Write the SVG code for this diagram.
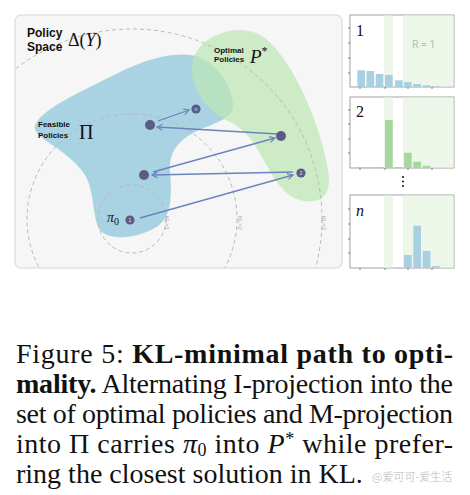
<svg xmlns="http://www.w3.org/2000/svg" width="470" height="495" viewBox="0 0 470 495">
<style>
.sans{font-family:"Liberation Sans",Arial,sans-serif;font-weight:bold;fill:#111}
.math{font-family:"Liberation Serif","Times New Roman",serif;fill:#111}
.kl{font-family:"Liberation Sans",Arial,sans-serif;font-size:6px;fill:#aaa}
.circ{fill:none;stroke:#b8b8b8;stroke-width:1;stroke-dasharray:4 3}
.node{fill:#5b5b86}
.nlab{font-family:"Liberation Sans",Arial,sans-serif;font-size:5px;fill:#e8e8f0;text-anchor:middle}
.arr{fill:none;stroke:#6a85bd;stroke-width:1.3;marker-end:url(#ah)}
.box{fill:#fff;stroke:#8a8a8a;stroke-width:0.8}
.band{fill:#ecf6e9}
.tick{stroke:#555;stroke-width:0.7}
.blue{fill:#a9d3e2}
.cap{font-family:"Liberation Serif","Times New Roman",serif;font-size:28px;fill:#111}
</style>
<defs>
<marker id="ah" markerWidth="10" markerHeight="10" refX="6" refY="3.5" orient="auto" markerUnits="userSpaceOnUse">
<path d="M0.5,0.5 L6,3.5 L0.5,6.5" fill="none" stroke="#6a85bd" stroke-width="1.2"/>
</marker>
<clipPath id="pc"><rect x="15" y="15" width="327" height="253" rx="6"/></clipPath>
</defs>

<g id="panel">
<rect x="15" y="15" width="327" height="253" rx="6" fill="#f6f6f6" stroke="#e2e2e2" stroke-width="1.5"/>
</g>

<g id="feasible">
<path class="blue" d="M37,122 C45,108 80,92 110,77 C135,64 165,52 190,55 C215,58 232,85 233,105 C234,118 215,123 197,131 C180,139 168,152 170,172 C172,195 172,215 158,226 C140,238 110,242 100,230 C92,218 95,192 85,175 C75,160 60,150 45,140 C35,133 32,127 37,122 Z"/>
</g>
<g id="optimal">
<path fill="#bde6b3" opacity="0.72" d="M193,60 C200,35 240,20 265,38 C295,62 322,130 328,170 C332,195 322,203 305,201 C288,199 278,185 268,168 C258,150 250,132 230,122 C200,108 188,80 193,60 Z"/>
</g>

<g id="kl-circles" clip-path="url(#pc)">
<circle class="circ" cx="132" cy="219" r="34"/>
<circle class="circ" cx="132" cy="219" r="105"/>
<circle class="circ" cx="132" cy="219" r="190"/>
<text class="kl" transform="translate(165,216) rotate(90)">KL=1</text>
<text class="kl" transform="translate(238,216) rotate(90)">KL=2</text>
<text class="kl" transform="translate(322,216) rotate(90)">KL=3</text>
</g>

<g id="labels">
<text class="sans" x="27" y="37" font-size="12">Policy</text>
<text class="sans" x="27" y="51" font-size="12">Space</text>
<text class="math" x="68" y="46" font-size="18">Δ(<tspan font-style="italic">Y</tspan>)</text>
<text class="sans" x="214" y="53" font-size="8">Optimal</text>
<text class="sans" x="214" y="62" font-size="8">Policies</text>
<text class="math" x="250" y="63" font-size="19" font-style="italic">P<tspan font-size="12" dy="-8" font-style="normal">*</tspan></text>
<text class="sans" x="38" y="127" font-size="8">Feasible</text>
<text class="sans" x="38" y="138" font-size="8">Policies</text>
<text class="math" x="79" y="139" font-size="20">Π</text>
<text class="math" x="107" y="222" font-size="14" font-style="italic">π<tspan font-size="10" dy="2.5" font-style="normal">0</tspan></text>
</g>

<g id="connectors">
<line class="arr" x1="140" y1="218" x2="293" y2="175"/>
<line class="arr" x1="293" y1="172" x2="152" y2="175"/>
<line class="arr" x1="153" y1="172" x2="275" y2="138"/>
<line class="arr" x1="278" y1="134" x2="157" y2="127"/>
<line class="arr" x1="158" y1="121" x2="189" y2="110"/>
</g>

<g id="node-pi0"><circle class="node" cx="130" cy="220" r="4.6"/><text class="nlab" x="130" y="221.8">1</text></g>
<g id="node-m1"><circle class="node" cx="144" cy="175" r="5"/></g>
<g id="node-i1"><circle class="node" cx="301" cy="173" r="4.6"/><text class="nlab" x="301" y="174.8">2</text></g>
<g id="node-i2"><circle class="node" cx="281" cy="136" r="5"/></g>
<g id="node-m2"><circle class="node" cx="150" cy="125" r="5"/></g>
<g id="node-n"><circle class="node" cx="196" cy="109" r="4.6"/><text class="nlab" x="196" y="110.6">n</text></g>

<g id="plot-1">
<rect class="box" x="350" y="15" width="104" height="72"/>
<rect class="band" x="384" y="15.5" width="9" height="71"/>
<rect class="band" x="403" y="15.5" width="50.5" height="71"/>
<text x="412" y="48" font-family="Roboto,'Liberation Sans',sans-serif" font-size="10.5" fill="#a9c7a8">R = 1</text>
<text class="math" x="356" y="36" font-size="16">1</text>
<g fill="#a9d0e0">
<rect x="357.3" y="70.3" width="7.7" height="16.7"/>
<rect x="366.5" y="71" width="7.7" height="16"/>
<rect x="375.7" y="74" width="7.7" height="13"/>
<rect x="385" y="75" width="7.7" height="12"/>
<rect x="395" y="80.3" width="7.7" height="6.7"/>
<rect x="404" y="82" width="7.7" height="5"/>
<rect x="413.3" y="84" width="7.7" height="3"/>
<rect x="422.7" y="85.3" width="7.7" height="1.7"/>
<rect x="432" y="86.3" width="7.7" height="0.7"/>
</g>
<g class="tick">
<line x1="348" y1="28" x2="350" y2="28"/><line x1="348" y1="43" x2="350" y2="43"/><line x1="348" y1="58" x2="350" y2="58"/><line x1="348" y1="73" x2="350" y2="73"/>
<line x1="360" y1="87" x2="360" y2="89"/><line x1="385" y1="87" x2="385" y2="89"/><line x1="408" y1="87" x2="408" y2="89"/><line x1="432" y1="87" x2="432" y2="89"/>
</g>
</g>

<g id="plot-2">
<rect class="box" x="350" y="97" width="104" height="71"/>
<rect class="band" x="384" y="97.5" width="9" height="70"/>
<rect class="band" x="403" y="97.5" width="50.5" height="70"/>
<text class="math" x="356" y="117" font-size="16">2</text>
<g fill="#a8d69f">
<rect x="357.3" y="167" width="7.7" height="1"/>
<rect x="366.5" y="167" width="7.7" height="1"/>
<rect x="375.7" y="167" width="7.7" height="1"/>
<rect x="385" y="120" width="7.7" height="48"/>
<rect x="395" y="167" width="7.7" height="1"/>
<rect x="404" y="152.7" width="7.7" height="15.3"/>
<rect x="413.3" y="161.7" width="7.7" height="6.3"/>
<rect x="422.7" y="165.7" width="7.7" height="2.3"/>
</g>
<g class="tick">
<line x1="348" y1="110" x2="350" y2="110"/><line x1="348" y1="124" x2="350" y2="124"/><line x1="348" y1="139" x2="350" y2="139"/><line x1="348" y1="153" x2="350" y2="153"/>
<line x1="360" y1="168" x2="360" y2="170"/><line x1="385" y1="168" x2="385" y2="170"/><line x1="408" y1="168" x2="408" y2="170"/><line x1="432" y1="168" x2="432" y2="170"/>
</g>
</g>

<g id="ellipsis" fill="#111">
<circle cx="403" cy="177" r="1"/><circle cx="403" cy="181.5" r="1"/><circle cx="403" cy="186" r="1"/>
</g>

<g id="plot-n">
<rect class="box" x="350" y="195" width="104" height="73"/>
<rect class="band" x="384" y="195.5" width="9" height="72"/>
<rect class="band" x="403" y="195.5" width="50.5" height="72"/>
<text class="math" x="356" y="216" font-size="16" font-style="italic">n</text>
<g fill="#a9d0e0">
<rect x="404" y="255" width="7.7" height="13"/>
<rect x="413.3" y="225.7" width="7.7" height="42.3"/>
<rect x="422.7" y="251" width="7.7" height="17"/>
<rect x="432" y="266" width="7.7" height="2"/>
</g>
<g class="tick">
<line x1="348" y1="209" x2="350" y2="209"/><line x1="348" y1="224" x2="350" y2="224"/><line x1="348" y1="239" x2="350" y2="239"/><line x1="348" y1="253" x2="350" y2="253"/>
<line x1="360" y1="268" x2="360" y2="270"/><line x1="385" y1="268" x2="385" y2="270"/><line x1="408" y1="268" x2="408" y2="270"/><line x1="432" y1="268" x2="432" y2="270"/>
</g>
</g>

<g id="caption">
<text class="cap" x="16" y="363" textLength="437" lengthAdjust="spacing">Figure 5:  <tspan font-weight="bold">KL-minimal path to opti-</tspan></text>
<text class="cap" x="16" y="393" textLength="437" lengthAdjust="spacing"><tspan font-weight="bold">mality.</tspan> Alternating I-projection into the</text>
<text class="cap" x="16" y="423" textLength="437" lengthAdjust="spacing">set of optimal policies and M-projection</text>
<text class="cap" x="16" y="453" textLength="437" lengthAdjust="spacing">into Π carries <tspan font-style="italic">π</tspan><tspan font-size="18" dy="3">0</tspan><tspan dy="-3"> into </tspan><tspan font-style="italic">P</tspan><tspan font-size="18" dy="-8">*</tspan><tspan dy="8"> while prefer-</tspan></text>
<text class="cap" x="16" y="483">ring the closest solution in KL.</text>
</g>
<g id="watermark">
<text x="372" y="481" font-family="'Noto Sans CJK SC',sans-serif" font-size="11" fill="#cdcdcd">@爱可可-爱生活</text>
</g>
</svg>
